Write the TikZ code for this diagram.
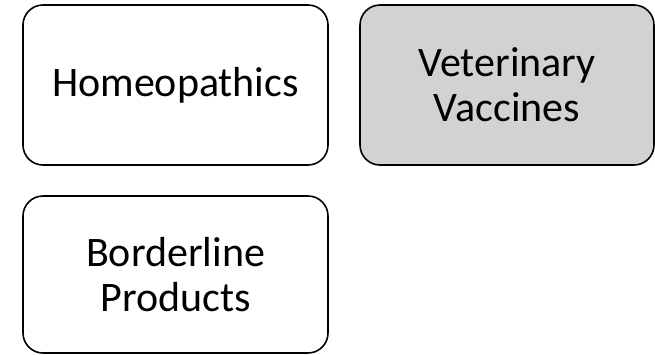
\documentclass[tikz,border=0pt]{standalone}
\usepackage{fontspec}
\setmainfont{Carlito}
\begin{document}
\begin{tikzpicture}[x=1pt,y=-1pt,
    catbox/.style={draw=black,line width=1.6pt,rounded corners=20pt,
      minimum width=305pt,minimum height=160pt,align=center,
      font=\fontsize{42}{45}\selectfont,inner sep=0pt}]
  \useasboundingbox (0,0) rectangle (655,354);
  \node[catbox,fill=white] (homeo) at (175.5,85) {Homeopathics};
  \node[catbox,fill=gray!35,minimum width=294pt] (vetvac) at (507,85) {Veterinary\\Vaccines};
  \node[catbox,fill=white,minimum height=157pt] (border) at (175.5,274.5) {Borderline\\Products};
\end{tikzpicture}
\end{document}
